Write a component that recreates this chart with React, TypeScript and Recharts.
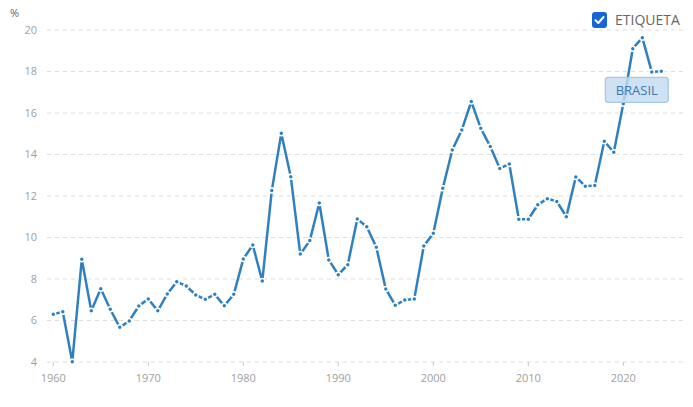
import React from 'react';
import { LineChart, Line, XAxis, YAxis, CartesianGrid, ReferenceDot } from 'recharts';

const years = [
  1960, 1961, 1962, 1963, 1964, 1965, 1966, 1967, 1968, 1969,
  1970, 1971, 1972, 1973, 1974, 1975, 1976, 1977, 1978, 1979,
  1980, 1981, 1982, 1983, 1984, 1985, 1986, 1987, 1988, 1989,
  1990, 1991, 1992, 1993, 1994, 1995, 1996, 1997, 1998, 1999,
  2000, 2001, 2002, 2003, 2004, 2005, 2006, 2007, 2008, 2009,
  2010, 2011, 2012, 2013, 2014, 2015, 2016, 2017, 2018, 2019,
  2020, 2021, 2022, 2023, 2024,
];
const brasil = [
  6.30, 6.42, 4.01, 8.95, 6.47, 7.53, 6.54, 5.67, 5.98, 6.70,
  7.04, 6.47, 7.28, 7.87, 7.66, 7.23, 7.02, 7.26, 6.71, 7.26,
  8.96, 9.64, 7.90, 12.26, 15.02, 12.93, 9.20, 9.85, 11.66, 8.92,
  8.21, 8.69, 10.89, 10.52, 9.53, 7.52, 6.73, 6.99, 7.04, 9.59,
  10.20, 12.37, 14.22, 15.18, 16.55, 15.26, 14.38, 13.33, 13.54, 10.88,
  10.88, 11.58, 11.87, 11.74, 11.00, 12.92, 12.47, 12.51, 14.64, 14.11,
  16.45, 19.10, 19.63, 17.98, 18.01,
];
const xTicks = [1960, 1970, 1980, 1990, 2000, 2010, 2020];
const yTicks = [4, 6, 8, 10, 12, 14, 16, 18, 20];
const seriesName = 'BRASIL';
const legendLabel = 'ETIQUETA';
const unitLabel = '%';

const data = years.map((y, i) => ({ year: y, value: brasil[i] }));

const LINE = '#3080c0';
const FONT = '"Open Sans", sans-serif';

const SeriesLabel = (props: any) => {
  const vb = props.viewBox || {};
  const cx = vb.x ?? 0;
  const cy = vb.y ?? 0;
  const bx = cx - 56;
  const by = cy + 6;
  return (
    <g>
      <rect x={bx} y={by} width={63} height={25} rx={3} ry={3}
        fill="rgba(196,220,240,0.82)" stroke="#a6c7e6" strokeWidth={1.2} />
      <text x={bx + 31.5} y={by + 13} textAnchor="middle" dominantBaseline="central"
        fontFamily={FONT} fontSize={13} fill="#3a78b5">{seriesName}</text>
    </g>
  );
};

export default function App() {
  const last = data[data.length - 1];
  return (
    <div style={{ position: 'absolute', left: 0, top: 0, width: 693, height: 407, background: '#fff', fontFamily: FONT }}>
      <div style={{ position: 'absolute', left: 10, top: 5, fontSize: 11, color: '#666' }}>{unitLabel}</div>
      <div style={{ position: 'absolute', left: 592, top: 12, display: 'flex', alignItems: 'center' }}>
        <svg width={15} height={16} style={{ display: 'block' }}>
          <rect x={0} y={0} width={15} height={16} rx={3} fill="#1565d8" />
          <path d="M3.5 8.3 L6.3 11 L11.5 5" fill="none" stroke="#fff" strokeWidth={2} strokeLinecap="round" strokeLinejoin="round" />
        </svg>
        <span style={{ marginLeft: 8, fontSize: 14, color: '#666', lineHeight: '16px' }}>{legendLabel}</span>
      </div>
      <LineChart width={693} height={407} data={data}
        margin={{ top: 30, right: 7, bottom: 15, left: 0 }}
        style={{ position: 'absolute', left: 0, top: 0 }}>
        <CartesianGrid horizontal vertical={false} stroke="#dedede" strokeDasharray="4 4" />
        <XAxis dataKey="year" type="number" domain={[1959.34, 2026.6]} ticks={xTicks}
          allowDataOverflow axisLine={false} tickLine={{ stroke: '#c8c8c8' }} tickSize={4} tickMargin={8}
          height={30} tick={{ fill: '#a0a0a0', fontSize: 11, fontFamily: FONT }} />
        <YAxis type="number" domain={[4, 20]} ticks={yTicks} width={47}
          axisLine={false} tickLine={false} tickSize={0} tickMargin={10}
          tick={{ fill: '#a0a0a0', fontSize: 11, fontFamily: FONT }} />
        <Line type="linear" dataKey="value" stroke={LINE} strokeWidth={2.5}
          dot={{ r: 2.5, fill: LINE, stroke: '#fff', strokeWidth: 1.5 }}
          activeDot={false} isAnimationActive={false} />
        <ReferenceDot x={last.year} y={last.value} r={0} stroke="none" fill="none"
          label={<SeriesLabel />} />
      </LineChart>
    </div>
  );
}
